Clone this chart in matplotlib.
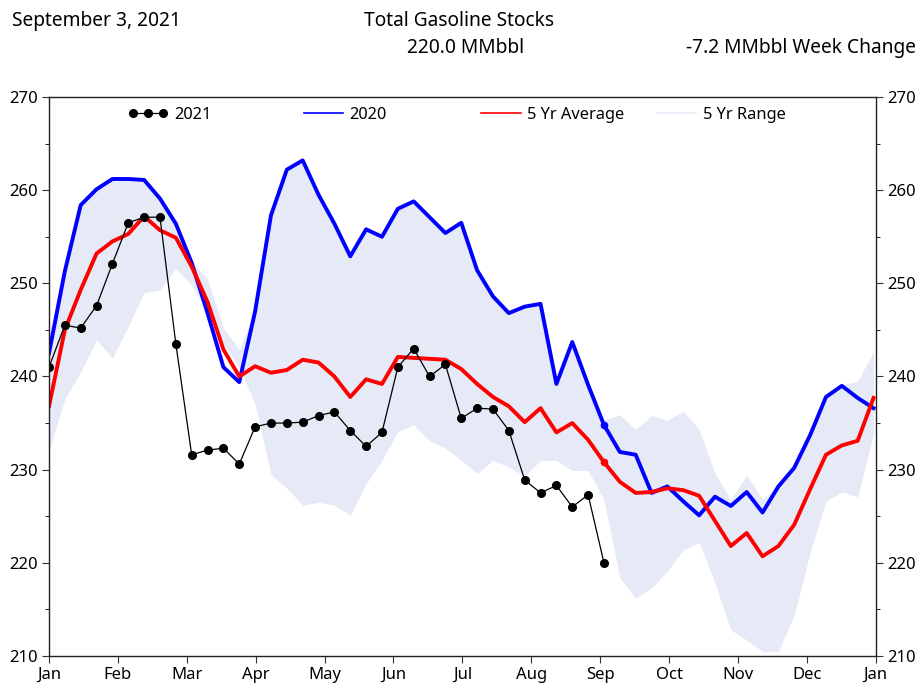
import numpy as np
import matplotlib
matplotlib.use("Agg")
import matplotlib.pyplot as plt

plt.rcParams['font.family'] = ['Noto Sans', 'DejaVu Sans']

# Недельные данные, млн баррелей
stocks_2021 = [241.0, 245.5, 245.2, 247.6, 252.1, 256.5, 257.1, 257.1, 243.5, 231.6,
               232.1, 232.3, 230.6, 234.6, 235.0, 235.0, 235.1, 235.8, 236.2, 234.2,
               232.5, 234.0, 241.0, 243.0, 240.0, 241.3, 235.5, 236.6, 236.5, 234.2,
               228.9, 227.5, 228.3, 226.0, 227.3, 220.0]

stocks_2020 = [242.5, 251.3, 258.4, 260.1, 261.2, 261.2, 261.1, 259.1, 256.4, 252.2,
               246.8, 241.0, 239.4, 247.0, 257.3, 262.2, 263.2, 259.5, 256.4, 252.9,
               255.8, 255.0, 258.0, 258.8, 257.1, 255.4, 256.5, 251.4, 248.6, 246.8,
               247.5, 247.8, 239.2, 243.7, 239.1, 234.8, 231.9, 231.6, 227.5, 228.2,
               226.6, 225.1, 227.1, 226.1, 227.6, 225.4, 228.2, 230.2, 233.7, 237.8,
               239.0, 237.7, 236.6]

avg_5yr = [236.8, 245.0, 249.3, 253.2, 254.5, 255.3, 257.2, 255.7, 254.9, 251.8,
           248.0, 242.9, 240.0, 241.1, 240.4, 240.7, 241.8, 241.5, 240.0, 237.8,
           239.7, 239.2, 242.1, 242.0, 241.9, 241.8, 240.8, 239.2, 237.8, 236.8,
           235.1, 236.6, 234.0, 235.0, 233.2, 230.8, 228.7, 227.5, 227.6, 228.0,
           227.8, 227.2, 224.5, 221.8, 223.2, 220.7, 221.8, 224.1, 227.9, 231.6,
           232.6, 233.1, 237.7]

range_high = [242.5, 251.3, 258.4, 260.1, 261.2, 261.2, 261.1, 259.1, 256.4, 252.4,
              250.4, 245.2, 242.9, 247.0, 257.3, 262.2, 263.2, 259.5, 256.4, 252.9,
              255.8, 255.0, 258.0, 258.8, 257.1, 255.4, 256.5, 251.4, 248.6, 246.8,
              247.5, 247.8, 239.2, 243.7, 239.1, 235.3, 235.9, 234.3, 235.8, 235.3,
              236.3, 234.3, 229.6, 226.8, 229.4, 226.8, 228.2, 230.2, 233.7, 237.8,
              239.1, 239.5, 242.7]

range_low = [232.0, 237.6, 240.5, 243.9, 242.0, 245.4, 249.0, 249.3, 251.6, 249.8,
             247.0, 243.5, 241.0, 237.0, 229.5, 228.0, 226.2, 226.5, 226.2, 225.1,
             228.5, 231.0, 234.1, 234.8, 233.1, 232.3, 231.0, 229.6, 231.0, 230.3,
             229.3, 231.0, 231.0, 229.9, 229.9, 226.8, 218.4, 216.2, 217.3, 219.1,
             221.4, 222.2, 217.8, 212.8, 211.7, 210.5, 210.5, 214.4, 221.1, 226.6,
             227.6, 227.1, 233.9]

months = ['Jan', 'Feb', 'Mar', 'Apr', 'May', 'Jun', 'Jul',
          'Aug', 'Sep', 'Oct', 'Nov', 'Dec', 'Jan']

# День года для каждой недели
x_all = np.arange(len(stocks_2020)) * 7
x_2021 = np.arange(len(stocks_2021)) * 7
cur = len(stocks_2021) - 1

fig = plt.figure(figsize=(9.19, 6.9), dpi=100)
ax = fig.add_axes([0.0533, 0.0493, 0.8997, 0.8101])

ax.fill_between(x_all, range_low, range_high, color='#e6e9f6', lw=0)
ax.plot(x_all, stocks_2020, color='#0000ff', lw=2.8)
ax.plot(x_all, avg_5yr, color='#ff0000', lw=2.8)
ax.plot(x_2021, stocks_2021, color='black', lw=0.9, marker='o', ms=5.5)
ax.plot(x_all[cur], stocks_2020[cur], 'o', color='#0000ff', ms=4.5)
ax.plot(x_all[cur], avg_5yr[cur], 'o', color='#ff0000', ms=4.5)

ax.set_xlim(0, 365)
ax.set_ylim(210, 270)
ax.set_xticks(np.arange(13) * 365 / 12)
ax.set_xticklabels(months)
ax.set_yticks(np.arange(210, 271, 10))
ax.set_yticks(np.arange(215, 270, 10), minor=True)
ax.tick_params(axis='both', labelsize=12, direction='out', length=5, color='#333333', pad=3)
ax.tick_params(axis='y', which='both', right=True, labelright=True)
ax.tick_params(axis='y', which='minor', length=3)
for s in ax.spines.values():
    s.set_color('#222222')
    s.set_linewidth(1.0)

# Легенда: четыре отдельные записи в одну строку
entries = [
    (plt.Line2D([], [], color='black', lw=0.9, marker='o', ms=5.5), '2021', 3, 0.088),
    (plt.Line2D([], [], color='#0000ff', lw=1.2), '2020', 1, 0.300),
    (plt.Line2D([], [], color='#ff0000', lw=1.2), '5 Yr Average', 1, 0.515),
    (plt.Line2D([], [], color='#e6e9f6', lw=1.2), '5 Yr Range', 1, 0.727),
]
for handle, text, npts, xpos in entries:
    lg = ax.legend([handle], [text], loc='upper left', bbox_to_anchor=(xpos, 0.994),
                   frameon=False, fontsize=11.8, handlelength=2.4, handletextpad=0.4,
                   numpoints=npts, borderaxespad=0)
    ax.add_artist(lg)
ax.legend_ = None

fig.text(0.013, 0.969, 'September 3, 2021', fontsize=13.8, va='center', ha='left')
fig.text(0.5, 0.969, 'Total Gasoline Stocks', fontsize=13.8, va='center', ha='center')
fig.text(0.507, 0.930, '220.0 MMbbl', fontsize=13.8, va='center', ha='center')
fig.text(0.997, 0.930, '-7.2 MMbbl Week Change', fontsize=13.8, va='center', ha='right')

fig.savefig('out.png', dpi=100)
